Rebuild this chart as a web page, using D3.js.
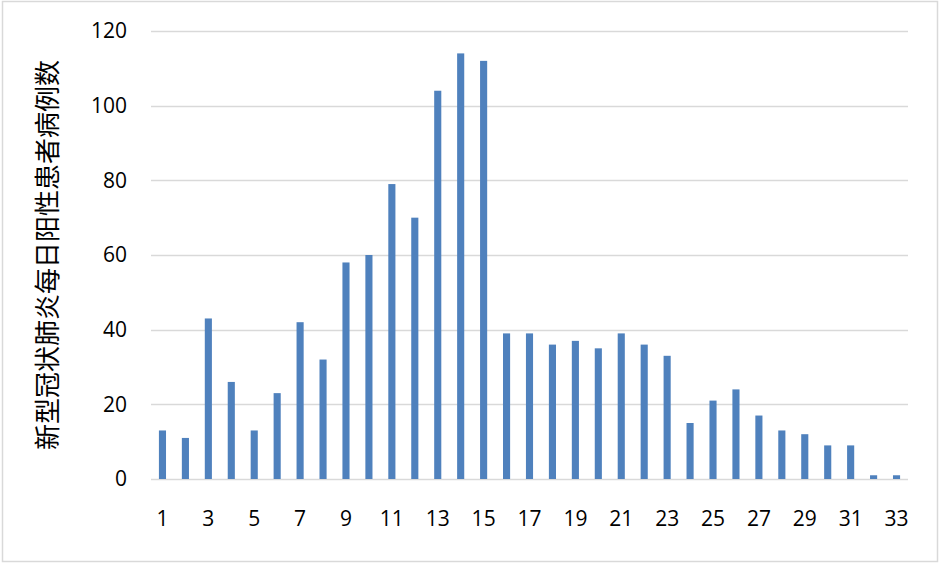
<!DOCTYPE html>
<html>
<head>
<meta charset="utf-8">
<script src="https://cdn.jsdelivr.net/npm/d3@7"></script>
<style>
  body { margin: 0; background: #fff; }
  svg { display: block; }
</style>
</head>
<body>
<svg id="chart" width="944" height="570"></svg>
<script>
// Data
const days = d3.range(1, 34);
const cases = [13, 11, 43, 26, 13, 23, 42, 32, 58, 60, 79, 70, 104, 114, 112,
               39, 39, 36, 37, 35, 39, 36, 33, 15, 21, 24, 17, 13, 12, 9, 9, 1, 1];
const yTicks = [0, 20, 40, 60, 80, 100, 120];
const yLabel = "新型冠状肺炎每日阳性患者病例数";

// Layout
const margin = {left: 151, right: 36, top: 31, bottom: 91};
const width = 944, height = 570;
const plotW = width - margin.left - margin.right;
const plotH = height - margin.top - margin.bottom;

const svg = d3.select("#chart");

// outer border
svg.append("rect")
    .attr("x", 2.5).attr("y", 1.5)
    .attr("width", 935).attr("height", 560)
    .attr("fill", "none")
    .attr("stroke", "#d9d9d9")
    .attr("stroke-width", 1.5);

const g = svg.append("g")
    .attr("transform", `translate(${margin.left},${margin.top})`);

const x = d3.scaleBand().domain(days).range([0, plotW]).paddingInner(0.69).paddingOuter(0.345);
const y = d3.scaleLinear().domain([0, 120]).range([plotH, 0]);

// gridlines
g.append("g")
    .selectAll("line")
    .data(yTicks)
    .join("line")
    .attr("x1", 0).attr("x2", plotW)
    .attr("y1", d => Math.round(y(d)) + 0.5)
    .attr("y2", d => Math.round(y(d)) + 0.5)
    .attr("stroke", "#d9d9d9")
    .attr("stroke-width", 1.5);

// bars
g.append("g")
    .selectAll("rect")
    .data(cases)
    .join("rect")
    .attr("x", (d, i) => x(days[i]))
    .attr("y", d => y(d))
    .attr("width", x.bandwidth())
    .attr("height", d => plotH - y(d))
    .attr("fill", "#4f81bd");

const tickFont = "'Open Sans', 'Liberation Sans', sans-serif";

// y axis
const yAxis = g.append("g")
    .call(d3.axisLeft(y).tickValues(yTicks).tickSize(0).tickPadding(24));
yAxis.select(".domain").remove();
yAxis.selectAll("text")
    .style("font-family", tickFont)
    .style("font-size", "21px")
    .attr("fill", "#000");

// x axis
const xAxis = g.append("g")
    .attr("transform", `translate(0,${plotH})`)
    .call(d3.axisBottom(x).tickValues(days.filter(d => d % 2 === 1)).tickSize(0).tickPadding(32));
xAxis.select(".domain").remove();
xAxis.selectAll("text")
    .style("font-family", tickFont)
    .style("font-size", "21px")
    .attr("fill", "#000");

// y label
svg.append("text")
    .attr("transform", `translate(57,255) rotate(-90)`)
    .attr("text-anchor", "middle")
    .style("font-family", "'Noto Sans CJK SC', sans-serif")
    .style("font-size", "26px")
    .attr("fill", "#000")
    .text(yLabel);
</script>
</body>
</html>
